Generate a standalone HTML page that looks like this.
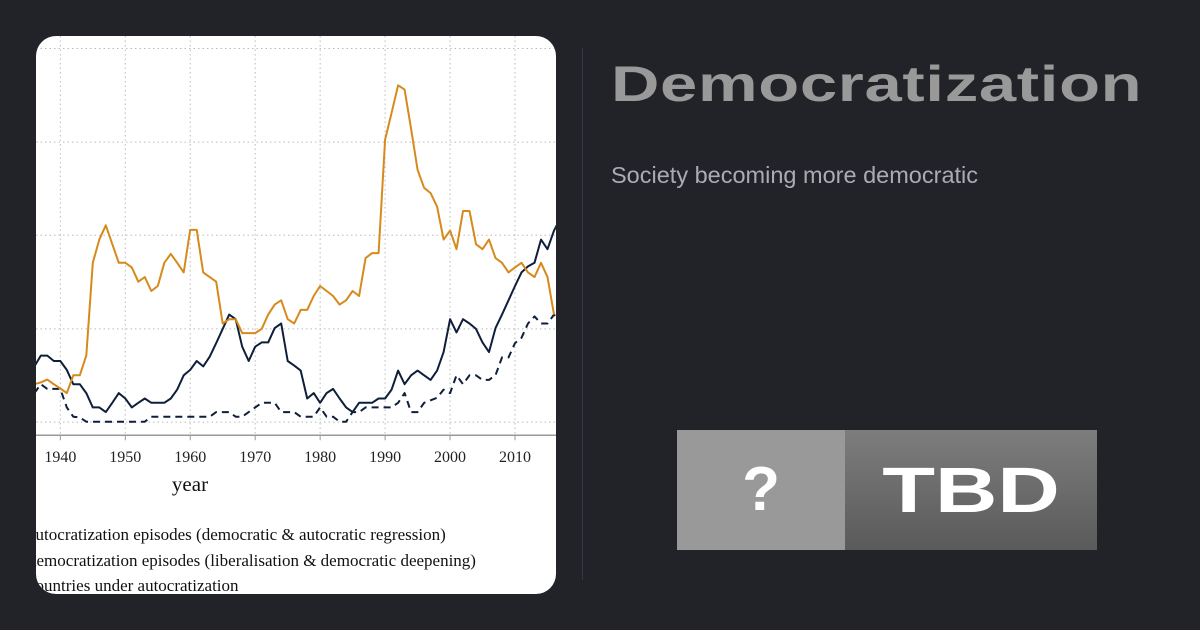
<!DOCTYPE html>
<html><head><meta charset="utf-8">
<style>
html,body{margin:0;padding:0;}
body{width:1200px;height:630px;background:#212328;position:relative;overflow:hidden;font-family:"Liberation Sans",sans-serif;}
.card{position:absolute;left:36px;top:36px;width:520px;height:558px;background:#fff;border-radius:20px;overflow:hidden;}
.div{position:absolute;left:582px;top:48px;width:1px;height:532px;background:#34373d;}
.title{position:absolute;left:611px;top:55px;font-size:50px;font-weight:bold;color:#999;white-space:nowrap;transform-origin:0 0;transform:scaleX(1.34);letter-spacing:0.5px;}
.sub{position:absolute;left:611px;top:162px;font-size:23.5px;color:#a9adb3;white-space:nowrap;}
.q{position:absolute;left:677px;top:430px;width:168px;height:120px;background:#999;color:#fff;font-weight:bold;font-size:62px;text-align:center;line-height:120px;}
.t{position:absolute;left:845px;top:430px;width:252px;height:120px;background:linear-gradient(180deg,#7d7d7d,#5a5a5a);}
.t span{position:absolute;left:126px;top:0;line-height:120px;color:#fff;font-weight:bold;font-size:64px;white-space:nowrap;transform:translateX(-50%) scaleX(1.35);}
</style></head><body>
<div class="card">
<svg id="s" width="520" height="558" xmlns="http://www.w3.org/2000/svg">
<g id="grid"></g>
<line x1="0" y1="399.3" x2="520" y2="399.3" stroke="#999" stroke-width="1.5"/>
<g id="ser"></g>
<g font-family="Liberation Serif, serif" font-size="16" fill="#222" id="lab"></g>
<text x="154" y="455" font-family="Liberation Serif, serif" font-size="21" fill="#111" text-anchor="middle">year</text>
<g font-family="Liberation Serif, serif" font-size="17" fill="#111">
<text x="-8" y="504">autocratization episodes (democratic &amp; autocratic regression)</text>
<text x="-8" y="530">democratization episodes (liberalisation &amp; democratic deepening)</text>
<text x="-8" y="555">countries under autocratization</text>
</g>
</svg>
</div>
<div class="div"></div>
<div class="title">Democratization</div>
<div class="sub">Society becoming more democratic</div>
<div class="q">?</div>
<div class="t"><span>TBD</span></div>
<script>
var NS="http://www.w3.org/2000/svg";
function X(yr){return (73+(yr-1940)*19.486)/3;}
function Y(z){return z/2.8;}
var g=document.getElementById('grid'),lab=document.getElementById('lab');
function el(p,t,a){var e=document.createElementNS(NS,t);for(var k in a)e.setAttribute(k,a[k]);p.appendChild(e);return e;}
[35,297,558,820,1081].forEach(function(z){el(g,'line',{x1:0,x2:520,y1:Y(z),y2:Y(z),stroke:'#bbb','stroke-width':1,'stroke-dasharray':'1.5,3'});});
for(var yr=1940;yr<=2010;yr+=10){var x=X(yr);el(g,'line',{x1:x,x2:x,y1:0,y2:Y(1118),stroke:'#bbb','stroke-width':1,'stroke-dasharray':'1.5,3'});
el(g,'line',{x1:x,x2:x,y1:Y(1118),y2:Y(1118)+5,stroke:'#999','stroke-width':1});
var t=el(lab,'text',{x:x,y:426,'text-anchor':'middle'});t.textContent=yr;}
var O=[975,970,962,975,987,1000,950,950,895,635,570,530,583,635,635,648,688,675,714,700,635,610,635,662,543,543,662,675,688,805,793,793,832,832,832,820,780,752,740,793,805,767,767,728,700,714,728,752,740,714,728,622,608,608,290,215,138,150,260,375,425,440,478,570,545,597,490,490,583,597,570,622,635,662,648,635,662,675,635,675,780];
var N=[925,895,895,910,910,935,975,975,1000,1040,1040,1053,1027,1000,1015,1040,1027,1015,1027,1027,1027,1015,990,950,935,910,925,898,860,820,780,793,870,910,870,858,858,818,805,910,923,937,1015,1000,1027,1000,988,1015,1040,1053,1027,1027,1027,1015,1015,990,937,975,950,937,950,963,937,885,793,830,793,805,820,858,885,818,780,740,700,662,645,635,570,597,545,510];
var D=[1000,975,988,988,988,1040,1066,1068,1080,1080,1080,1080,1080,1080,1080,1080,1080,1080,1066,1066,1066,1066,1066,1066,1066,1066,1066,1066,1053,1053,1053,1066,1066,1053,1040,1027,1027,1027,1053,1053,1053,1066,1066,1066,1040,1066,1066,1080,1080,1053,1053,1040,1040,1040,1040,1040,1027,1000,1053,1053,1027,1020,1013,990,1000,950,975,950,950,963,963,950,900,900,860,845,805,785,805,805,780,805];
var s=document.getElementById('ser');
function pl(arr,c,dash){var p=arr.map(function(z,i){return X(1936+i).toFixed(1)+','+Y(z).toFixed(1);}).join(' ');
var a={points:p,fill:'none',stroke:c,'stroke-width':2,'stroke-linejoin':'round'};if(dash)a['stroke-dasharray']='7,5';el(s,'polyline',a);}
pl(D,'#0f1e3a',true);pl(N,'#0f1e3a');pl(O,'#d68a1c');
</script>
</body></html>
